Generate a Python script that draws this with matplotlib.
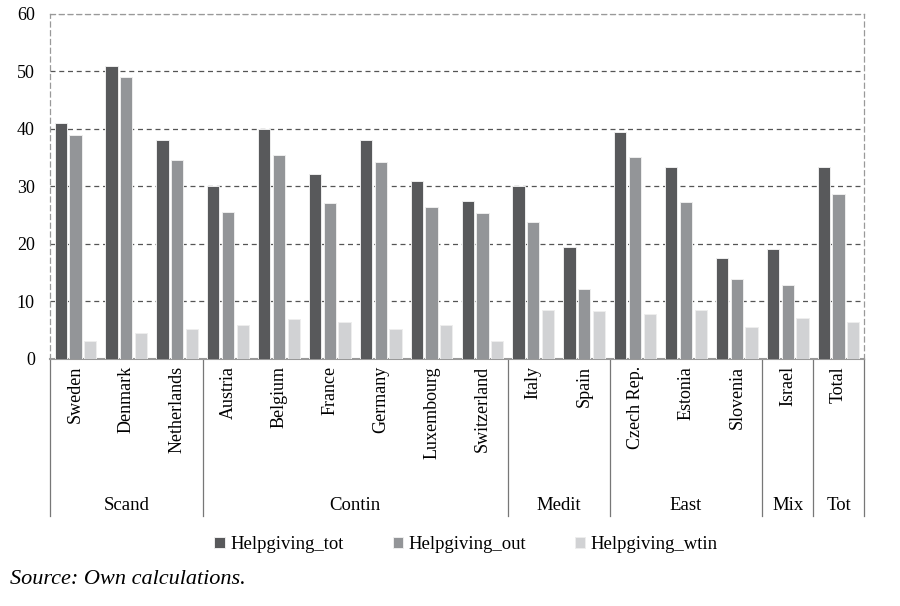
import numpy as np
import matplotlib
matplotlib.use('Agg')
import matplotlib.pyplot as plt

plt.rcParams['font.family'] = ['Liberation Serif', 'DejaVu Serif']

# данные
countries = ['Sweden', 'Denmark', 'Netherlands', 'Austria', 'Belgium', 'France',
             'Germany', 'Luxembourg', 'Switzerland', 'Italy', 'Spain',
             'Czech Rep.', 'Estonia', 'Slovenia', 'Israel', 'Total']
groups = ['Scand', 'Contin', 'Medit', 'East', 'Mix', 'Tot']
group_sizes = [3, 6, 2, 3, 1, 1]

helpgiving_tot = [41.1, 51.0, 38.0, 30.0, 40.0, 32.2, 38.0, 31.0, 27.5,
                  30.0, 19.5, 39.4, 33.4, 17.5, 19.2, 33.4]
helpgiving_out = [39.0, 49.0, 34.6, 25.6, 35.4, 27.1, 34.3, 26.5, 25.4,
                  23.9, 12.2, 35.1, 27.3, 13.9, 12.9, 28.7]
helpgiving_wtin = [3.2, 4.5, 5.2, 5.9, 6.9, 6.4, 5.2, 5.9, 3.2,
                   8.5, 8.3, 7.8, 8.5, 5.6, 7.1, 6.4]

series = [('Helpgiving_tot', helpgiving_tot, '#58595b'),
          ('Helpgiving_out', helpgiving_out, '#939598'),
          ('Helpgiving_wtin', helpgiving_wtin, '#d1d2d4')]

fig = plt.figure(figsize=(9, 6.06), dpi=100)
ax = fig.add_axes([0.0556, 0.4076, 0.9044, 0.5694])

x = np.arange(len(countries))
w = 0.24
offsets = [-0.29, 0.0, 0.29]
for (name, vals, col), off in zip(series, offsets):
    ax.bar(x + off, vals, w, color=col, edgecolor='#eeeeee', linewidth=0.7,
           label=name, zorder=3)

ax.set_xlim(-0.5, len(countries) - 0.5)
ax.set_ylim(0, 60)
ax.set_yticks(range(0, 61, 10))
ax.yaxis.grid(True, linestyle=(0, (4, 3)), color='#555555', linewidth=0.9, zorder=0)
ax.get_ygridlines()[-1].set_color('#999999')
ax.tick_params(axis='y', length=0, labelsize=13, pad=11)
ax.set_xticks(x)
ax.set_xticklabels(countries, rotation=90, va='top', fontsize=13)
ax.tick_params(axis='x', length=0, pad=5)

for s in ['left', 'right', 'top']:
    ax.spines[s].set_linestyle((0, (4, 3)))
    ax.spines[s].set_color('#999999')
    ax.spines[s].set_linewidth(0.9)
ax.spines['bottom'].set_color('#999999')
ax.spines['bottom'].set_linewidth(1.5)

# разделители групп и подписи групп
trans = ax.get_xaxis_transform()
edges = np.concatenate([[0], np.cumsum(group_sizes)]) - 0.5
for e in edges:
    ax.plot([e, e], [0, -0.455], transform=trans, color='#777777',
            linewidth=0.9, clip_on=False)
for g, a, b in zip(groups, edges[:-1], edges[1:]):
    ax.text((a + b) / 2, -0.426, g, transform=trans, ha='center', va='center',
            fontsize=13.5)

fig.legend(loc='center', bbox_to_anchor=(0.518, 0.101), ncol=3, frameon=False,
           fontsize=13.5, handlelength=0.55, handleheight=0.55, handletextpad=0.3,
           columnspacing=2.6)

fig.text(0.011, 0.043, 'Source: Own calculations.', style='italic', fontsize=16,
         va='center', ha='left')

fig.savefig('out.png', dpi=100)
